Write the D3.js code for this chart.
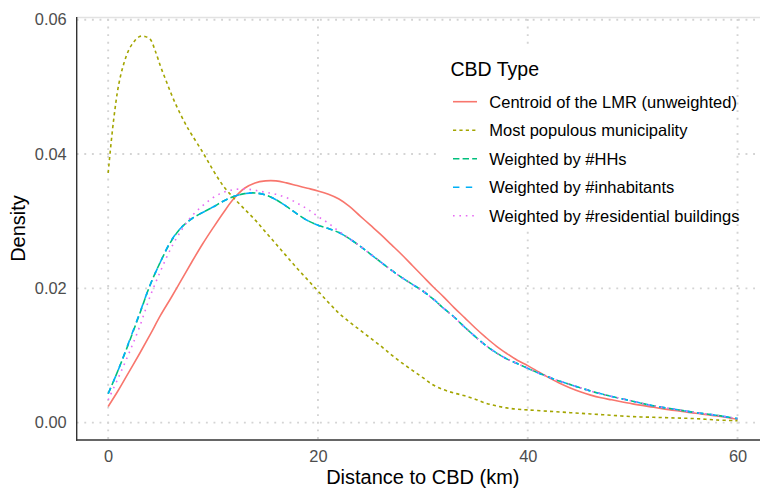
<!DOCTYPE html>
<html>
<head>
<meta charset="utf-8">
<script src="https://cdn.jsdelivr.net/npm/d3@7"></script>
<style>
  html, body { margin: 0; padding: 0; background: #fff; }
  svg { display: block; font-family: "Liberation Sans", Arial, Helvetica, sans-serif; }
</style>
</head>
<body>
<svg id="chart" width="760" height="488"></svg>
<script>
// Kernel density of distance to CBD, one curve per CBD definition
const seriesNames = [
  "Centroid of the LMR (unweighted)",
  "Most populous municipality",
  "Weighted by #HHs",
  "Weighted by #inhabitants",
  "Weighted by #residential buildings"
];
const seriesColors = ["#F8766D", "#A3A500", "#00BF7D", "#00B0F6", "#E76BF3"];
const seriesDash = ["", "22", "42", "44", "13"];

const xTicks = [0, 20, 40, 60];
const yTicks = [0.00, 0.02, 0.04, 0.06];

// [distance km, density]
const centroid = [
  [0, .0024], [1, .0049], [2, .0076], [3, .0103], [4, .0131], [5, .0160], [6, .0186],
  [7, .0213], [8, .0240], [9, .0266], [10, .0290], [11, .0313], [12, .0334], [13, .0349],
  [14, .0357], [15, .0360], [16, .0360], [17, .0357], [18, .0353], [19, .0349], [20, .0345],
  [21, .0340], [22, .0333], [23, .0322], [24, .0308], [25, .0294], [26, .0280], [27, .0265],
  [28, .0250], [29, .0234], [30, .0218], [31, .0202], [32, .0187], [33, .0171], [34, .0156],
  [35, .0141], [36, .0127], [37, .0114], [38, .0103], [39, .0093], [40, .0085], [41, .0076],
  [42, .0067], [43, .0059], [44, .0052], [45, .0046], [46, .0041], [47, .0037], [48, .0034],
  [50, .0028], [52, .0023], [54, .0018], [56, .0014], [58, .0010], [60, .0005]
];
const populous = [
  [0, .0372], [0.5, .0448], [1, .0503], [1.5, .0535], [2, .0556], [2.5, .0568], [3, .0575],
  [3.5, .0575], [4, .0571], [4.5, .0553], [5, .0530], [5.5, .0510], [6, .0490], [6.5, .0472],
  [7, .0456], [7.5, .0441], [8, .0428], [9, .0403], [10, .0376], [11, .0352], [12, .0334],
  [13, .0318], [14, .0302], [15, .0284], [16, .0266], [17, .0248], [18, .0230], [19, .0213],
  [20, .0196], [21, .0179], [22, .0163], [23, .0150], [24, .0138], [25, .0126], [26, .0114],
  [27, .0101], [28, .0089], [29, .0078], [30, .0067], [31, .0056], [32, .0049], [33, .0044],
  [34, .0040], [35, .0035], [36, .0029], [37, .0025], [38, .0022], [39, .0020], [40, .0019],
  [42, .0017], [44, .0015], [46, .0013], [48, .0011], [50, .0009], [52, .0008], [54, .0007],
  [56, .0006], [58, .0004], [60, .0003]
];
const households = [
  [0, .0043], [1, .0080], [2, .0120], [3, .0162], [4, .0205], [5, .0240], [6, .0270],
  [7, .0291], [8, .0304], [9, .0313], [10, .0321], [11, .0330], [12, .0337], [13, .0341],
  [14, .0342], [15, .0339], [16, .0332], [17, .0322], [18, .0311], [19, .0301], [20, .0294],
  [21, .0289], [22, .0283], [23, .0274], [24, .0263], [25, .0251], [26, .0239], [27, .0227],
  [28, .0216], [29, .0206], [30, .0196], [31, .0184], [32, .0170], [33, .0157], [34, .0142],
  [35, .0128], [36, .0115], [37, .0104], [38, .0095], [39, .0088], [40, .0081], [41, .0074],
  [42, .0068], [43, .0062], [44, .0057], [45, .0052], [46, .0047], [47, .0043], [48, .0039],
  [50, .0032], [52, .0025], [54, .0020], [56, .0015], [58, .0011], [60, .0006]
];
const inhabitants = [
  [0, .0043], [1, .0080], [2, .0121], [3, .0163], [4, .0205], [5, .0240], [6, .0271],
  [7, .0291], [8, .0304], [9, .0313], [10, .0321], [11, .0330], [12, .0337], [13, .0341],
  [14, .0342], [15, .0339], [16, .0332], [17, .0322], [18, .0311], [19, .0301], [20, .0294],
  [21, .0289], [22, .0283], [23, .0274], [24, .0263], [25, .0251], [26, .0239], [27, .0227],
  [28, .0216], [29, .0206], [30, .0196], [31, .0184], [32, .0170], [33, .0157], [34, .0142],
  [35, .0128], [36, .0115], [37, .0104], [38, .0095], [39, .0088], [40, .0081], [41, .0074],
  [42, .0068], [43, .0062], [44, .0057], [45, .0052], [46, .0047], [47, .0043], [48, .0039],
  [50, .0032], [52, .0025], [54, .0020], [56, .0015], [58, .0011], [60, .0006]
];
const buildings = [
  [0, .0034], [1, .0068], [2, .0104], [3, .0143], [4, .0188], [5, .0226], [6, .0260],
  [7, .0287], [8, .0308], [9, .0323], [10, .0335], [11, .0343], [12, .0347], [13, .0348],
  [14, .0346], [15, .0343], [16, .0340], [17, .0335], [18, .0327], [19, .0318], [20, .0307],
  [21, .0297], [22, .0285], [23, .0274], [24, .0263], [25, .0251], [26, .0239], [27, .0227],
  [28, .0216], [29, .0206], [30, .0196], [31, .0184], [32, .0170], [33, .0157], [34, .0142],
  [35, .0128], [36, .0115], [37, .0104], [38, .0095], [39, .0088], [40, .0081], [41, .0074],
  [42, .0068], [43, .0062], [44, .0057], [45, .0052], [46, .0047], [47, .0043], [48, .0039],
  [50, .0032], [52, .0025], [54, .0020], [56, .0015], [58, .0011], [60, .0006]
];
const seriesValues = [centroid, populous, households, inhabitants, buildings];

const svg = d3.select("#chart");
const panel = { left: 76.7, right: 769, top: 17, bottom: 440 };

const x = d3.scaleLinear().domain([-3, 63]).range([panel.left, panel.right]);
const y = d3.scaleLinear().domain([-0.00258, 0.0604]).range([panel.bottom, panel.top]);

const gridColor = "#d4d4d4";

// top edge of the panel
svg.append("line")
  .attr("x1", panel.left).attr("x2", 760)
  .attr("y1", panel.top + 0.5).attr("y2", panel.top + 0.5)
  .attr("stroke", "#e2e2e2").attr("stroke-width", 1.5);

// dotted grid
const grid = svg.append("g");
grid.selectAll("line.v").data(xTicks).join("line")
  .attr("x1", d => x(d)).attr("x2", d => x(d))
  .attr("y1", panel.top + 2).attr("y2", panel.bottom)
  .attr("stroke", gridColor).attr("stroke-width", 1.9)
  .attr("stroke-dasharray", "1.9,5.7");
grid.selectAll("line.h").data(yTicks).join("line")
  .attr("x1", panel.left).attr("x2", 760)
  .attr("y1", d => y(d)).attr("y2", d => y(d))
  .attr("stroke", gridColor).attr("stroke-width", 1.9)
  .attr("stroke-dasharray", "1.9,5.7");

// density curves
const line = d3.line()
  .x(d => x(d[0]))
  .y(d => y(d[1]))
  .curve(d3.curveCatmullRom.alpha(0.5));

const dashFor = i => seriesDash[i] ? seriesDash[i].split("").map(c => +c * 1.6).join(",") : null;

const curves = svg.append("g");
seriesValues.forEach((vals, i) => {
  curves.append("path")
    .datum(vals)
    .attr("d", line)
    .attr("fill", "none")
    .attr("stroke", seriesColors[i])
    .attr("stroke-width", 1.6)
    .attr("stroke-dasharray", dashFor(i));
});

// axes
const xAxis = svg.append("g")
  .attr("transform", `translate(0,${panel.bottom})`)
  .call(d3.axisBottom(x).tickValues(xTicks).tickSize(0).tickPadding(10).tickFormat(d3.format("d")));
const yAxis = svg.append("g")
  .attr("transform", `translate(${panel.left},0)`)
  .call(d3.axisLeft(y).tickValues(yTicks).tickSize(0).tickPadding(10).tickFormat(d3.format(".2f")));

[xAxis, yAxis].forEach(g => {
  g.select(".domain").remove();
  g.selectAll("text")
    .attr("fill", "#4d4d4d")
    .style("font-size", "16.4px")
    .style("font-family", "'Liberation Sans', Arial, sans-serif");
});

svg.append("line")
  .attr("x1", panel.left).attr("x2", panel.left)
  .attr("y1", panel.top).attr("y2", panel.bottom + 0.7)
  .attr("stroke", "#333").attr("stroke-width", 1.4);
svg.append("line")
  .attr("x1", panel.left - 0.7).attr("x2", 760)
  .attr("y1", panel.bottom).attr("y2", panel.bottom)
  .attr("stroke", "#333").attr("stroke-width", 1.4);

// axis titles
svg.append("text")
  .attr("x", (panel.left + panel.right) / 2).attr("y", 484)
  .attr("text-anchor", "middle")
  .style("font-size", "20px")
  .attr("fill", "#000")
  .text("Distance to CBD (km)");
svg.append("text")
  .attr("transform", `translate(24.5,${(panel.top + panel.bottom) / 2}) rotate(-90)`)
  .attr("text-anchor", "middle")
  .style("font-size", "20px")
  .attr("fill", "#000")
  .text("Density");

// legend
const legend = svg.append("g");
legend.append("rect")
  .attr("x", 441).attr("y", 47).attr("width", 292).attr("height", 183)
  .attr("fill", "#fff");
legend.append("text")
  .attr("x", 450.5).attr("y", 75.5)
  .style("font-size", "19.5px")
  .attr("fill", "#000")
  .text("CBD Type");

const rowY = i => 101.7 + i * 28.5;
seriesNames.forEach((name, i) => {
  legend.append("line")
    .attr("x1", 453).attr("x2", 477)
    .attr("y1", rowY(i)).attr("y2", rowY(i))
    .attr("stroke", seriesColors[i])
    .attr("stroke-width", 1.6)
    .attr("stroke-dasharray", dashFor(i));
  legend.append("text")
    .attr("x", 489.3).attr("y", rowY(i))
    .attr("dy", "0.36em")
    .style("font-size", "16.5px")
    .attr("fill", "#000")
    .text(name);
});
</script>
</body>
</html>
